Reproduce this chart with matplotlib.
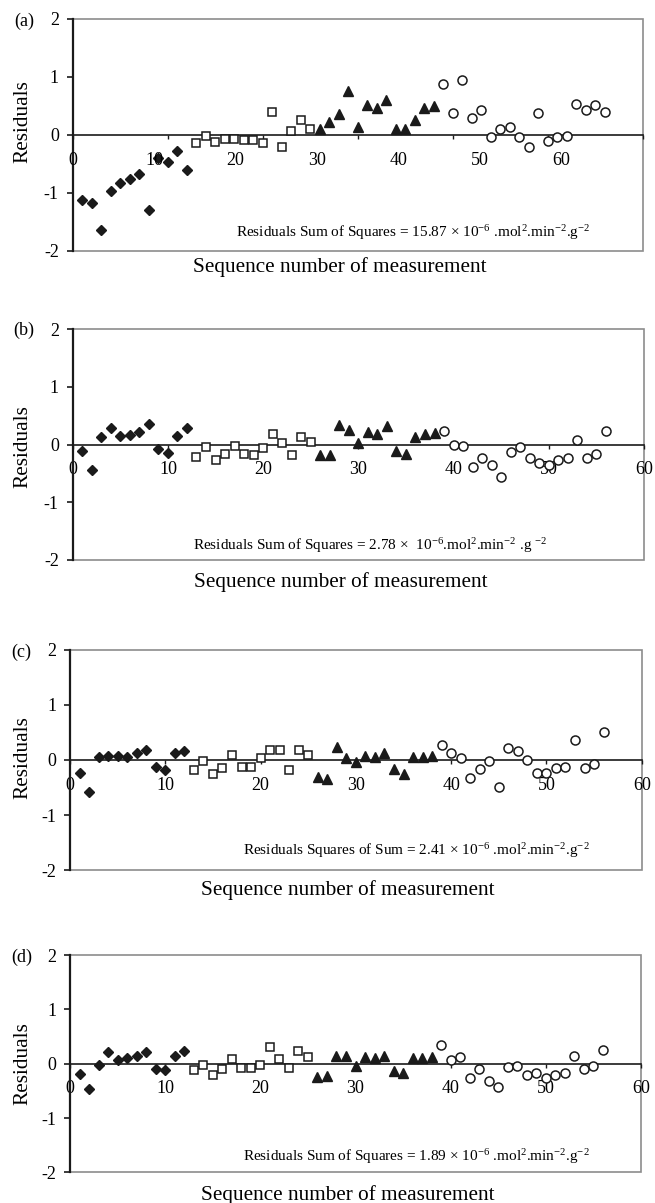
import matplotlib
matplotlib.use("Agg")
import matplotlib.pyplot as plt
from matplotlib.patches import Rectangle

plt.rcParams['font.family'] = ['Liberation Serif', 'DejaVu Serif']
plt.rcParams['mathtext.default'] = 'regular'

# sequence numbers for the four groups of measurements
seq_diamond = [1, 2, 3, 4, 5, 6, 7, 8, 9, 10, 11, 12]
seq_square = [13, 14, 15, 16, 17, 18, 19, 20, 21, 22, 23, 24, 25]
seq_triangle = [26, 27, 28, 29, 30, 31, 32, 33, 34, 35, 36, 37, 38]
seq_circle = [39, 40, 41, 42, 43, 44, 45, 46, 47, 48, 49, 50, 51, 52, 53, 54, 55, 56]

# panel (a)
a_diamond = [-1.12, -1.18, -1.64, -0.97, -0.83, -0.76, -0.68, -1.30, -0.40, -0.46, -0.27, -0.60]
a_square = [-0.14, -0.02, -0.13, -0.07, -0.07, -0.09, -0.09, -0.14, 0.40, -0.21, 0.07, 0.25, 0.11]
a_triangle = [0.10, 0.23, 0.36, 0.75, 0.13, 0.52, 0.47, 0.60, 0.10, 0.10, 0.26, 0.47, 0.49]
a_circle = [0.87, 0.37, 0.95, 0.30, 0.43, -0.04, 0.11, 0.14, -0.04, -0.20, 0.37, -0.10,
            -0.04, -0.02, 0.53, 0.43, 0.51, 0.40]

# panel (b)
b_diamond = [-0.11, -0.44, 0.13, 0.29, 0.15, 0.17, 0.22, 0.35, -0.08, -0.14, 0.15, 0.29]
b_square = [-0.21, -0.04, -0.26, -0.17, -0.03, -0.16, -0.18, -0.06, 0.18, 0.02, -0.18, 0.13, 0.05]
b_triangle = [-0.18, -0.18, 0.33, 0.25, 0.02, 0.22, 0.18, 0.32, -0.12, -0.17, 0.13, 0.18, 0.20]
b_circle = [0.24, 0.00, -0.02, -0.39, -0.23, -0.36, -0.57, -0.13, -0.05, -0.23, -0.32, -0.35,
            -0.26, -0.23, 0.07, -0.23, -0.16, 0.24]

# panel (c)
c_diamond = [-0.24, -0.58, 0.05, 0.08, 0.08, 0.05, 0.12, 0.19, -0.13, -0.19, 0.12, 0.16]
c_square = [-0.18, -0.02, -0.26, -0.15, 0.09, -0.13, -0.13, 0.04, 0.19, 0.18, -0.19, 0.18, 0.09]
c_triangle = [-0.31, -0.34, 0.24, 0.04, -0.03, 0.07, 0.06, 0.12, -0.17, -0.25, 0.06, 0.06, 0.07]
c_circle = [0.27, 0.12, 0.03, -0.32, -0.16, -0.02, -0.49, 0.21, 0.16, 0.00, -0.24, -0.24,
            -0.15, -0.13, 0.36, -0.15, -0.08, 0.50]

# panel (d)
d_diamond = [-0.19, -0.46, -0.02, 0.21, 0.07, 0.10, 0.15, 0.21, -0.10, -0.12, 0.15, 0.24]
d_square = [-0.12, -0.03, -0.21, -0.10, 0.09, -0.08, -0.08, -0.02, 0.31, 0.09, -0.08, 0.24, 0.12]
d_triangle = [-0.25, -0.23, 0.15, 0.15, -0.05, 0.13, 0.10, 0.15, -0.14, -0.18, 0.10, 0.10, 0.12]
d_circle = [0.34, 0.06, 0.12, -0.26, -0.09, -0.31, -0.43, -0.07, -0.04, -0.20, -0.18, -0.26,
            -0.20, -0.18, 0.15, -0.10, -0.05, 0.26]

x_ticks = [0, 10, 20, 30, 40, 50, 60]
x_ticklabels = ['0', '10', '20', '30', '40', '50', '60']
y_ticks = [-2, -1, 0, 1, 2]
y_ticklabels = ['-2', '-1', '0', '1', '2']

panel_letters = ['(a)', '(b)', '(c)', '(d)']
notes = [
    r'Residuals Sum of Squares = 15.87 $\times$ 10$^{-6}$ .mol$^{2}$.min$^{-2}$.g$^{-2}$',
    r'Residuals Sum of Squares = 2.78 $\times$  10$^{-6}$.mol$^{2}$.min$^{-2}$ .g $^{-2}$',
    r'Residuals Squares of Sum = 2.41 $\times$ 10$^{-6}$ .mol$^{2}$.min$^{-2}$.g$^{-2}$',
    r'Residuals Sum of Squares = 1.89 $\times$ 10$^{-6}$ .mol$^{2}$.min$^{-2}$.g$^{-2}$',
]

panels = [
    (a_diamond, a_square, a_triangle, a_circle),
    (b_diamond, b_square, b_triangle, b_circle),
    (c_diamond, c_square, c_triangle, c_circle),
    (d_diamond, d_square, d_triangle, d_circle),
]

# layout (figure fractions), note position, label positions
rects = [
    [0.111, 0.7914, 0.8707, 0.1929],
    [0.111, 0.5345, 0.8722, 0.1920],
    [0.1069, 0.2768, 0.8728, 0.1829],
    [0.1069, 0.0255, 0.8718, 0.1806],
]
note_pos = [(17.2, -1.68), (12.6, -1.75), (18.2, -1.65), (18.2, -1.71)]
ylabel_pos = [(-0.088, 0.556), (-0.088, 0.489), (-0.083, 0.51), (-0.083, 0.5)]
xlabel_pos = [(0.469, -0.07), (0.469, -0.095), (0.486, -0.09), (0.486, -0.105)]
letter_y = [0.99, 0.994, 0.99, 0.99]

ink = '#1a1a1a'
frame = '#8c8c8c'

fig = plt.figure(figsize=(6.55, 12.03), dpi=100)

for i, (dia, sq, tri, cir) in enumerate(panels):
    ax = fig.add_axes(rects[i])
    ax.set_xlim(0, 60)
    ax.set_ylim(-2, 2)

    ax.plot(seq_diamond, dia, 'D', ms=5.2, color=ink, mec=ink, zorder=3, clip_on=False)
    ax.plot(seq_square, sq, 's', ms=6.2, mfc='white', mec=ink, mew=1.1, zorder=3)
    ax.plot(seq_triangle, tri, '^', ms=7, color=ink, mec=ink, zorder=3)
    ax.plot(seq_circle, cir, 'o', ms=6.5, mfc='white', mec=ink, mew=1.1, zorder=3)

    # gray plot-area border
    ax.add_patch(Rectangle((0, 0), 1, 1, transform=ax.transAxes, fill=False,
                           edgecolor=frame, lw=1.2, zorder=0.5, clip_on=False))
    for s in ['top', 'right']:
        ax.spines[s].set_visible(False)
    ax.spines['left'].set_color(ink)
    ax.spines['left'].set_linewidth(1.6)
    ax.spines['bottom'].set_position(('data', 0))
    ax.spines['bottom'].set_color(ink)
    ax.spines['bottom'].set_linewidth(1.2)

    ax.set_yticks(y_ticks)
    ax.set_yticklabels(y_ticklabels)
    ax.tick_params(axis='y', direction='out', length=4, width=1.2, pad=6,
                   labelsize=13, color=ink)
    ax.set_xticks(x_ticks)
    ax.tick_params(axis='x', direction='out', length=3, width=1, pad=9,
                   labelsize=13, color=ink)

    if i == 0:
        # labels of panel (a) sit on a 0-70 scale
        ax.set_xticklabels([])
        ax2 = ax.twiny()
        ax2.set_xlim(0, 70)
        ax2.set_xticks(x_ticks)
        ax2.set_xticklabels(x_ticklabels)
        ax2.xaxis.set_ticks_position('bottom')
        ax2.spines['bottom'].set_position(('data', 0))
        for s in ax2.spines.values():
            s.set_visible(False)
        ax2.tick_params(axis='x', length=0, pad=12, labelsize=13)
    else:
        ax.set_xticklabels(x_ticklabels)

    ax.text(note_pos[i][0], note_pos[i][1], notes[i], fontsize=11, ha='left', va='center')
    ax.text(ylabel_pos[i][0], ylabel_pos[i][1], 'Residuals', rotation=90, fontsize=15.3,
            ha='center', va='center', transform=ax.transAxes)
    ax.text(xlabel_pos[i][0], xlabel_pos[i][1], 'Sequence number of measurement', fontsize=15.3,
            ha='center', va='center', transform=ax.transAxes)
    ax.text(-0.085, letter_y[i], panel_letters[i], fontsize=13, ha='center', va='center',
            transform=ax.transAxes)

fig.savefig('out.png', dpi=100)
